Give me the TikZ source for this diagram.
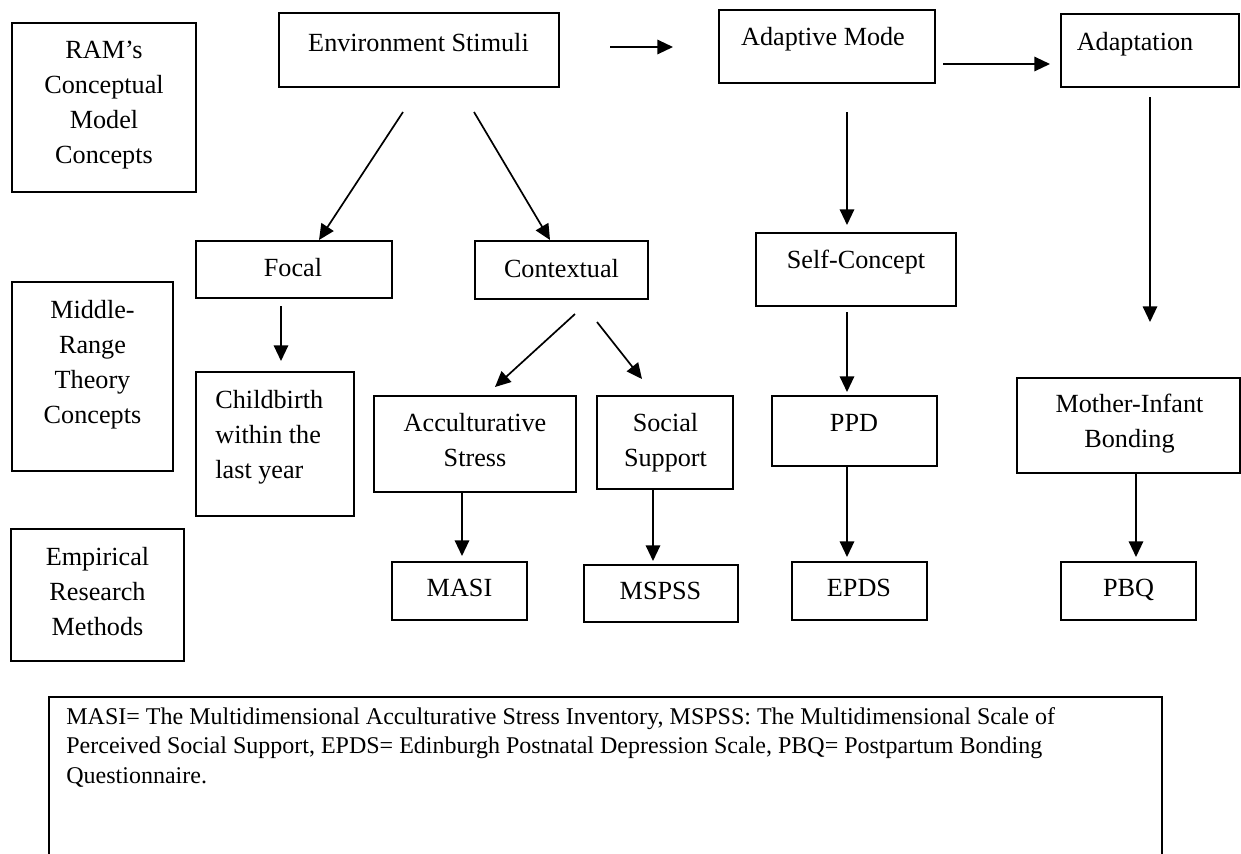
\documentclass[tikz,border=0pt]{standalone}
\usepackage{fontspec}
\setmainfont{Liberation Serif}
\usetikzlibrary{arrows.meta,fit}
\begin{document}
\begin{tikzpicture}[x=0.5pt,y=-0.5pt,
  box/.style={draw,line width=0.65pt,inner sep=0pt},
  thickbox/.style={box,line width=0.95pt},
  lbl/.style={anchor=base,inner sep=0pt,align=center,font=\fontsize{13.1}{17.4}\selectfont},
  lbll/.style={lbl,anchor=base west,align=left},
  note/.style={anchor=base west,inner sep=0pt,align=left,font=\fontsize{12}{14.75}\selectfont},
  arr/.style={line width=0.85pt,-{Triangle[length=7.8pt,width=7.2pt]}}]
\useasboundingbox (0,0) rectangle (1241,853);

% boxes
\node[box,fit={(12,23) (196,192)}] (ram) {};
\node[box,fit={(12,282) (173,471)}] (mrt) {};
\node[box,fit={(11,529) (184,661)}] (emp) {};
\node[thickbox,fit={(279,13) (559,87)}] (es) {};
\node[box,fit={(719,10) (935,83)}] (am) {};
\node[thickbox,fit={(1061,14) (1239,87)}] (ad) {};
\node[box,fit={(196,241) (392,298)}] (foc) {};
\node[box,fit={(475,241) (648,299)}] (ctx) {};
\node[box,fit={(756,233) (956,306)}] (sc) {};
\node[box,fit={(196,372) (354,516)}] (cb) {};
\node[box,fit={(374,396) (576,492)}] (acc) {};
\node[box,fit={(597,396) (733,489)}] (soc) {};
\node[box,fit={(772,396) (937,466)}] (ppd) {};
\node[box,fit={(1017,378) (1240,473)}] (mib) {};
\node[box,fit={(392,562) (527,620)}] (masi) {};
\node[box,fit={(584,565) (738,622)}] (mspss) {};
\node[box,fit={(792,562) (927,620)}] (epds) {};
\node[box,fit={(1061,562) (1196,620)}] (pbq) {};
\node[box,fit={(49,697) (1162,880)}] (notebox) {};

% texts (multi-line nodes: anchor at the baseline of the last line)
\node[lbl] (ram-t) at (104,163) {RAM’s\\Conceptual\\Model\\Concepts};
\node[lbl] (mrt-t) at (92.5,423) {Middle-\\Range\\Theory\\Concepts};
\node[lbl] (emp-t) at (97.5,635) {Empirical\\Research\\Methods};
\node[lbl] (es-t) at (418.5,51) {Environment Stimuli};
\node[lbl] (am-t) at (823,45) {Adaptive Mode};
\node[lbl] (ad-t) at (1135,50) {Adaptation};
\node[lbl] (foc-t) at (293,276) {Focal};
\node[lbl] (ctx-t) at (561.5,277) {Contextual};
\node[lbl] (sc-t) at (856,268) {Self-Concept};
\node[lbll] (cb-t) at (215,478) {Childbirth\\within the\\last year};
\node[lbl] (acc-t) at (475,466) {Acculturative\\Stress};
\node[lbl] (soc-t) at (665.5,466) {Social\\Support};
\node[lbl] (ppd-t) at (854,431) {PPD};
\node[lbl] (mib-t) at (1129.5,447) {Mother-Infant\\Bonding};
\node[lbl] (masi-t) at (459.5,596) {MASI};
\node[lbl] (mspss-t) at (660.5,599) {MSPSS};
\node[lbl] (epds-t) at (859,596) {EPDS};
\node[lbl] (pbq-t) at (1128.5,596) {PBQ};
\node[note] (note-t) at (66,783) {MASI= The Multidimensional Acculturative Stress Inventory, MSPSS: The Multidimensional Scale of\\Perceived Social Support, EPDS= Edinburgh Postnatal Depression Scale, PBQ= Postpartum Bonding\\Questionnaire.};

% connector end points
\coordinate (a1s) at (403,112); \coordinate (a1e) at (319,240);
\coordinate (a2s) at (474,112); \coordinate (a2e) at (550,240);
\coordinate (a3s) at (610,47);  \coordinate (a3e) at (673,47);
\coordinate (a4s) at (943,64);  \coordinate (a4e) at (1050,64);
\coordinate (a5s) at (847,112); \coordinate (a5e) at (847,225);
\coordinate (a6s) at (1150,97); \coordinate (a6e) at (1150,322);
\coordinate (a7s) at (281,306); \coordinate (a7e) at (281,361);
\coordinate (a8s) at (575,314); \coordinate (a8e) at (495,387);
\coordinate (a9s) at (597,322); \coordinate (a9e) at (642,379);
\coordinate (a10s) at (462,492); \coordinate (a10e) at (462,556);
\coordinate (a11s) at (653,489); \coordinate (a11e) at (653,561);
\coordinate (a12s) at (847,312); \coordinate (a12e) at (847,392);
\coordinate (a13s) at (847,466); \coordinate (a13e) at (847,557);
\coordinate (a14s) at (1136,473); \coordinate (a14e) at (1136,557);

\foreach \i in {1,...,14} {\draw[arr] (a\i s) -- (a\i e);}
\end{tikzpicture}
\end{document}
